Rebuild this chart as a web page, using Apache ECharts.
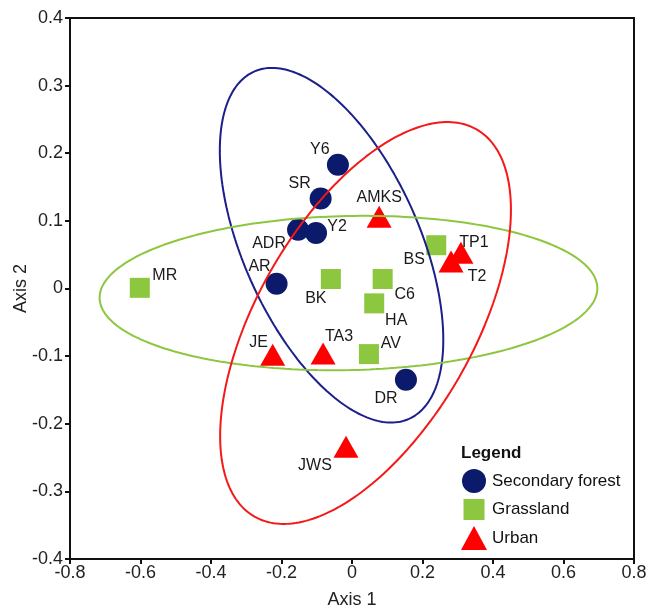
<!DOCTYPE html>
<html>
<head>
<meta charset="utf-8">
<script src="https://cdn.jsdelivr.net/npm/echarts@6/dist/echarts.min.js"></script>
<style>
html,body{margin:0;padding:0;background:#fff;}
#chart{width:648px;height:608px;}
</style>
</head>
<body>
<div id="chart"></div>
<script>
// ---- data ----
const forestNames = ['Y6', 'SR', 'ADR', 'Y2', 'AR', 'DR'];
const forestX = [-0.040, -0.089, -0.153, -0.102, -0.214, 0.153];
const forestY = [0.183, 0.133, 0.087, 0.082, 0.007, -0.135];

const grassNames = ['MR', 'BK', 'C6', 'HA', 'BS', 'AV'];
const grassX = [-0.602, -0.060, 0.087, 0.063, 0.239, 0.048];
const grassY = [0.001, 0.014, 0.014, -0.022, 0.064, -0.097];

const urbanNames = ['AMKS', 'TP1', 'T2', 'JE', 'TA3', 'JWS'];
const urbanX = [0.077, 0.309, 0.281, -0.225, -0.082, -0.017];
const urbanY = [0.106, 0.053, 0.040, -0.098, -0.096, -0.234];

// ellipses: centre and two conjugate semi-axis vectors (data units)
const forestEllipseCenter = [-0.058, 0.064];
const forestEllipseAxes = [[0.2197, -0.2568], [-0.2285, -0.0529]];
const grassEllipseCenter = [-0.010, -0.0067];
const grassEllipseAxes = [[0.7060, 0.0077], [0.0046, -0.1139]];
const urbanEllipseCenter = [0.0384, -0.0510];
const urbanEllipseAxes = [[0.3149, 0.2863], [0.2664, -0.0794]];

const xTicks = [-0.8, -0.6, -0.4, -0.2, 0, 0.2, 0.4, 0.6, 0.8];
const yTicks = [-0.4, -0.3, -0.2, -0.1, 0, 0.1, 0.2, 0.3, 0.4];

// ---- layout (label offsets in px) ----
const labelOffsets = {
  Y6: [-18, -15], SR: [-21, -15], ADR: [-29, 14], Y2: [21, -6], AR: [-17, -17], DR: [-20, 19],
  MR: [25, -12], BK: [-15, 20], C6: [22, 16], HA: [22, 17], BS: [-22, 14], AV: [22, -11],
  AMKS: [0, -19], TP1: [13, -10], T2: [26, 15], JE: [-14, -12], TA3: [16, -17], JWS: [-31, 19]
};

const FONT = 'Liberation Sans, Arial, Helvetica, sans-serif';
const C_FOREST = '#0c1a6c', C_FOREST_LINE = '#1b1f8a';
const C_GRASS = '#8dc63f';
const C_URBAN = '#ff0000', C_URBAN_LINE = '#f51818';

function pts(names, xs, ys) {
  return names.map((n, i) => ({
    name: n, value: [xs[i], ys[i]],
    label: { offset: labelOffsets[n] }
  }));
}
function ellipse(c, ax) {
  const out = [];
  for (let k = 0; k <= 240; k++) {
    const t = 2 * Math.PI * k / 240;
    out.push([c[0] + ax[0][0] * Math.cos(t) + ax[1][0] * Math.sin(t),
              c[1] + ax[0][1] * Math.cos(t) + ax[1][1] * Math.sin(t)]);
  }
  return out;
}

const labelBase = { show: true, position: 'inside', formatter: '{b}', color: '#1a1a1a', fontSize: 16, fontFamily: FONT };

function lineSeries(c, ax, color) {
  return {
    type: 'line', data: ellipse(c, ax), showSymbol: false, symbol: 'none', silent: true,
    lineStyle: { color: color, width: 2 }, z: 3, clip: false, animation: false
  };
}

const chart = echarts.init(document.getElementById('chart'), null, { renderer: 'canvas' });
chart.setOption({
  animation: false,
  backgroundColor: '#ffffff',
  textStyle: { fontFamily: FONT },
  title: {
    text: 'Legend', left: 456, top: 440,
    textStyle: { fontSize: 17, fontWeight: 'bold', color: '#111', fontFamily: FONT }
  },
  legend: {
    orient: 'vertical', left: 461, top: 469, padding: 0,
    itemWidth: 26, itemHeight: 24, itemGap: 4.5,
    textStyle: { fontSize: 17, color: '#111', fontFamily: FONT },
    data: [
      { name: 'Secondary forest', icon: 'circle' },
      { name: 'Grassland', icon: 'path://M-1.5,-1.5M0,0L21,0L21,21L0,21ZM22.5,22.5' },
      { name: 'Urban', icon: 'triangle' }
    ]
  },
  grid: { left: 70, right: 14, top: 18, bottom: 49, containLabel: false, outerBoundsMode: 'none', show: true, borderColor: '#111', borderWidth: 2, backgroundColor: 'transparent' },
  xAxis: {
    type: 'value', min: xTicks[0], max: xTicks[xTicks.length - 1], interval: 0.2,
    name: 'Axis 1', nameLocation: 'middle', nameGap: 32, nameMoveOverlap: false,
    nameTextStyle: { fontSize: 18, color: '#222', fontFamily: FONT },
    axisLine: { onZero: false, lineStyle: { color: '#111', width: 2 } },
    axisTick: { show: true, length: 5, lineStyle: { color: '#111', width: 2 } },
    axisLabel: { fontSize: 18, color: '#222', margin: 5, fontFamily: FONT },
    splitLine: { show: false }
  },
  yAxis: {
    type: 'value', min: yTicks[0], max: yTicks[yTicks.length - 1], interval: 0.1,
    name: 'Axis 2', nameLocation: 'middle', nameGap: 40, nameRotate: 90, nameMoveOverlap: false,
    nameTextStyle: { fontSize: 18, color: '#222', fontFamily: FONT },
    axisLine: { onZero: false, lineStyle: { color: '#111', width: 2 } },
    axisTick: { show: true, length: 5, lineStyle: { color: '#111', width: 2 } },
    axisLabel: { fontSize: 18, color: '#222', margin: 7, fontFamily: FONT },
    splitLine: { show: false }
  },
  series: [
    {
      name: 'Secondary forest', type: 'scatter', symbol: 'circle', symbolSize: 22,
      itemStyle: { color: C_FOREST, opacity: 1 }, label: labelBase, z: 2,
      data: pts(forestNames, forestX, forestY)
    },
    {
      name: 'Grassland', type: 'scatter', symbol: 'rect', symbolSize: 20,
      itemStyle: { color: C_GRASS, opacity: 1 }, label: labelBase, z: 2,
      data: pts(grassNames, grassX, grassY)
    },
    {
      name: 'Urban', type: 'scatter', symbol: 'triangle', symbolSize: [25, 22],
      itemStyle: { color: C_URBAN, opacity: 1 }, label: labelBase, z: 2,
      data: pts(urbanNames, urbanX, urbanY)
    },
    lineSeries(forestEllipseCenter, forestEllipseAxes, C_FOREST_LINE),
    lineSeries(grassEllipseCenter, grassEllipseAxes, C_GRASS),
    lineSeries(urbanEllipseCenter, urbanEllipseAxes, C_URBAN_LINE)
  ]
});
</script>
</body>
</html>
